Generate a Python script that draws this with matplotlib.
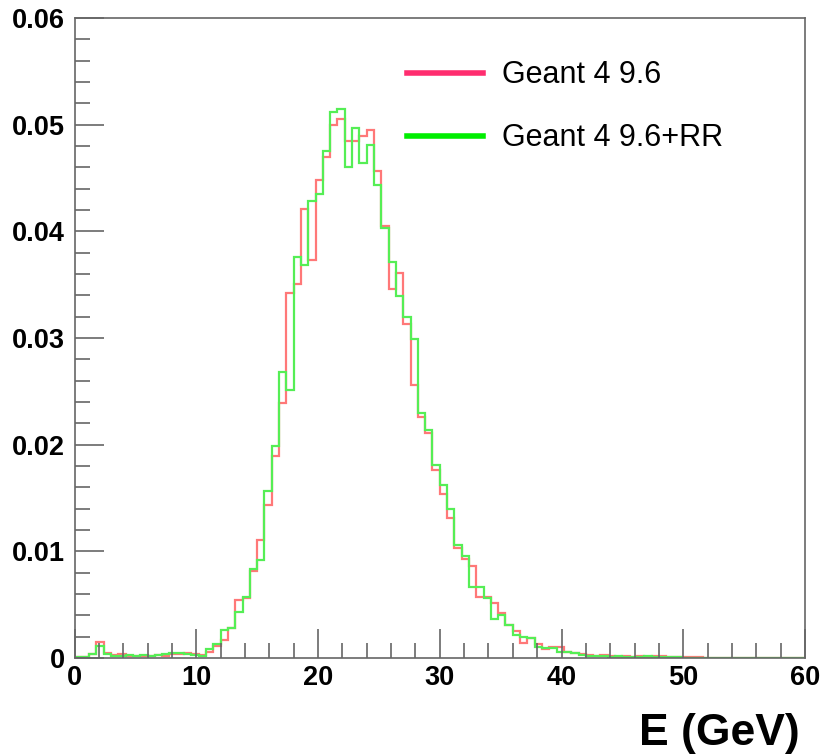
#!/usr/bin/env python

import numpy as np
import matplotlib.pyplot as plt
from matplotlib.lines import Line2D

# histogram binning: 100 bins from 0 to 60 GeV
edges = np.linspace(0, 60, 101)

# Geant 4 9.6 (normalised)
g4 = [0.0001, 0.0001, 0.0004, 0.0015, 0.0005, 0.0003, 0.0004, 0.0002, 0.0002, 0.0002,
      0.0002, 0.0003, 0.0002, 0.0004, 0.0004, 0.0005, 0.0004, 0.0003, 0.0006, 0.0011,
      0.0017, 0.0028, 0.0054, 0.0056, 0.0082, 0.0111, 0.0143, 0.0189, 0.0239, 0.0342,
      0.0351, 0.0421, 0.0373, 0.0448, 0.0470, 0.0500, 0.0505, 0.0485, 0.0485, 0.0489,
      0.0495, 0.0457, 0.0405, 0.0346, 0.0361, 0.0313, 0.0256, 0.0226, 0.0211, 0.0176,
      0.0154, 0.0131, 0.0103, 0.0093, 0.0086, 0.0057, 0.0057, 0.0052, 0.0042, 0.0031,
      0.0025, 0.0014, 0.0019, 0.0013, 0.0008, 0.0010, 0.0010, 0.0006, 0.0005, 0.0004,
      0.0003, 0.0002, 0.0003, 0.0002, 0.0001, 0.0002, 0.0001, 0.0002, 0.0001, 0.0002,
      0.0002, 0.0001, 0.0001, 0.0001, 0.0001, 0.0001, 0.0, 0.0, 0.0, 0.0,
      0.0, 0.0, 0.0, 0.0, 0.0, 0.0, 0.0, 0.0, 0.0, 0.0]

# Geant 4 9.6 + RR
g4rr = [0.0001, 0.0001, 0.0004, 0.0011, 0.0004, 0.0002, 0.0002, 0.0003, 0.0002, 0.0003,
        0.0002, 0.0003, 0.0004, 0.0005, 0.0005, 0.0004, 0.0003, 0.0002, 0.0008, 0.0013,
        0.0026, 0.0028, 0.0043, 0.0057, 0.0083, 0.0092, 0.0157, 0.0199, 0.0268, 0.0251,
        0.0376, 0.0368, 0.0428, 0.0435, 0.0475, 0.0512, 0.0515, 0.0460, 0.0497, 0.0464,
        0.0481, 0.0443, 0.0403, 0.0371, 0.0339, 0.0320, 0.0299, 0.0230, 0.0214, 0.0181,
        0.0162, 0.0140, 0.0106, 0.0096, 0.0067, 0.0067, 0.0056, 0.0037, 0.0040, 0.0031,
        0.0022, 0.0020, 0.0019, 0.0010, 0.0009, 0.0009, 0.0006, 0.0006, 0.0005, 0.0003,
        0.0002, 0.0002, 0.0002, 0.0001, 0.0002, 0.0001, 0.0001, 0.0001, 0.0002, 0.0001,
        0.0001, 0.0001, 0.0001, 0.0, 0.0, 0.0, 0.0, 0.0, 0.0, 0.0,
        0.0, 0.0, 0.0, 0.0, 0.0, 0.0, 0.0, 0.0, 0.0, 0.0]

labels = ['Geant 4 9.6', 'Geant 4 9.6+RR']

plt.rcParams['font.family'] = ['Liberation Sans', 'DejaVu Sans']

fig = plt.figure(figsize=(8.21, 7.56), dpi=100)
ax = fig.add_axes([74.5 / 821, 1 - 658 / 756, (805 - 74.5) / 821, (658 - 18) / 756])

ax.stairs(g4, edges, color='#ff7878', lw=1.6)
ax.stairs(g4rr, edges, color='#55ee55', lw=1.6)

ax.set_xlim(0, 60)
ax.set_ylim(0, 0.06)

ax.set_xticks(np.arange(0, 61, 10))
ax.set_xticks(np.arange(0, 61, 2), minor=True)
ax.set_yticks(np.arange(0, 0.061, 0.01))
ax.set_yticks(np.arange(0, 0.0601, 0.002), minor=True)
ax.set_xticklabels(['0', '10', '20', '30', '40', '50', '60'])
ax.set_yticklabels(['0', '0.01', '0.02', '0.03', '0.04', '0.05', '0.06'])

ax.tick_params(which='both', direction='in', color='#666666', width=1.2,
               top=False, right=False)
ax.tick_params(which='major', length=21, labelsize=19.5)
ax.tick_params(which='minor', length=11)
ax.tick_params(axis='x', pad=5)
ax.tick_params(axis='y', pad=7)
for lab in ax.get_xticklabels() + ax.get_yticklabels():
    lab.set_fontweight('bold')

for s in ax.spines.values():
    s.set_color('#666666')
    s.set_linewidth(1.2)

fig.text(800 / 821, 1 - 745 / 756, 'E (GeV)', ha='right', va='baseline',
         fontsize=32, fontweight='bold')

handles = [Line2D([], [], color='#ff2d6f', lw=4),
           Line2D([], [], color='#00ee00', lw=4)]
ax.legend(handles, labels, loc='upper left', bbox_to_anchor=(392 / 821, 1 - 45 / 756),
          bbox_transform=fig.transFigure, frameon=False, fontsize=22,
          handlelength=2.48, handletextpad=0.62, labelspacing=1.08, borderpad=0)

plt.savefig('out.png', dpi=100)
